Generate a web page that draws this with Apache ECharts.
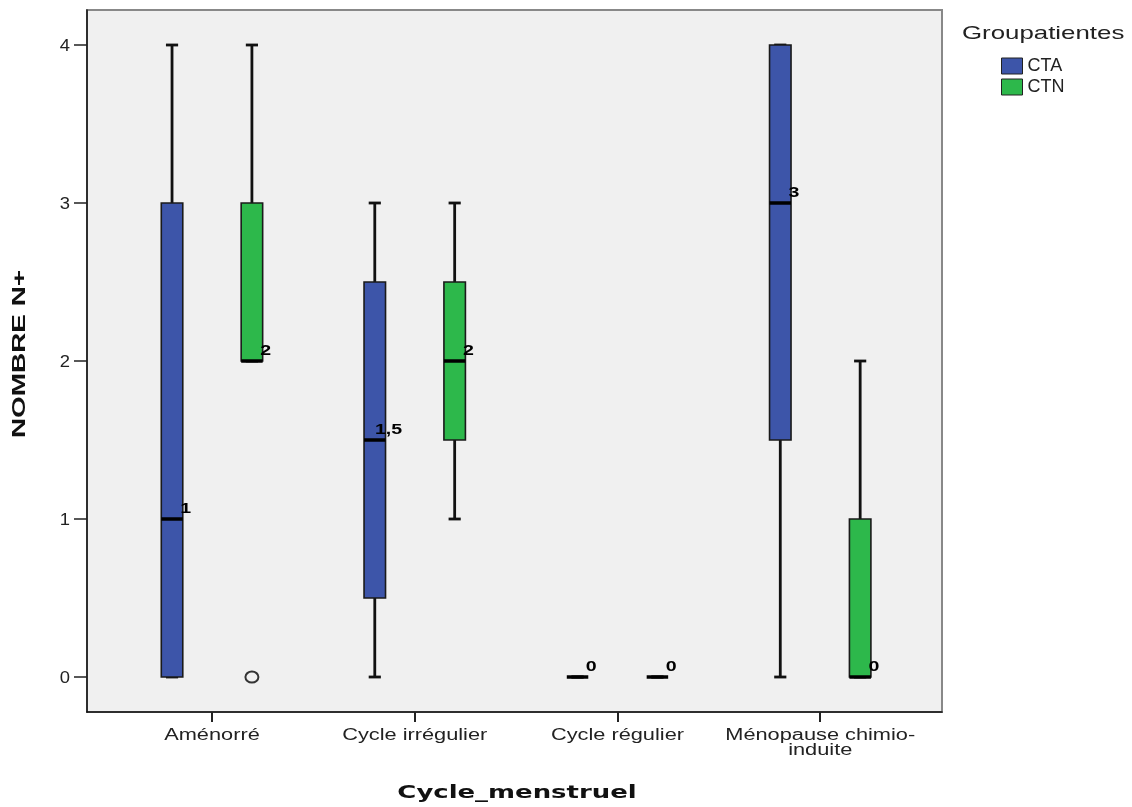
<!DOCTYPE html>
<html>
<head>
<meta charset="utf-8">
<script src="https://cdn.jsdelivr.net/npm/echarts@6/dist/echarts.min.js"></script>
<style>html,body{margin:0;padding:0;background:#fff}#c{width:1132px;height:807px}</style>
</head>
<body>
<div id="c"></div>
<script>
// ---- data ----
const categories = ['Aménorré', 'Cycle irrégulier', 'Cycle régulier', 'Ménopause chimio-\ninduite'];
const groups = ['CTA', 'CTN'];
const yTicks = [0, 1, 2, 3, 4];
const xTitle = 'Cycle_menstruel';
const yTitle = 'NOMBRE N+';
const legendTitle = 'Groupatientes';

const ctaMin = [0, 0, 0, 0];
const ctaQ1  = [0, 0.5, 0, 1.5];
const ctaMed = [1, 1.5, 0, 3];
const ctaQ3  = [3, 2.5, 0, 4];
const ctaMax = [4, 3, 0, 4];
const ctaLabels = ['1', '1,5', '0', '3'];
const ctaOutliers = [];

const ctnMin = [2, 1, 0, 0];
const ctnQ1  = [2, 1.5, 0, 0];
const ctnMed = [2, 2, 0, 0];
const ctnQ3  = [3, 2.5, 0, 1];
const ctnMax = [4, 3, 0, 2];
const ctnLabels = ['2', '2', '0', '0'];
const ctnOutliers = [[0, 0]]; // [category index, value]

// ---- build ----
const BLUE = '#3d55a9', GREEN = '#2db84b';
const SX = 1.36; // horizontal text stretch seen in the reference
function rows(mn, q1, md, q3, mx) {
  return categories.map((c, i) => [i, mn[i], q1[i], md[i], q3[i], mx[i]]);
}
function boxRender(side, color, labels) {
  return function (params, api) {
    const i = api.value(0);
    const band = api.size([1, 0])[0];
    const cx = api.coord([i, 0])[0] + side * band * 0.197;
    const bw = band * 0.106, cap = band * 0.03;
    const y = v => api.coord([i, v])[1];
    const yMin = y(api.value(1)), yQ1 = y(api.value(2)), yMed = y(api.value(3)), yQ3 = y(api.value(4)), yMax = y(api.value(5));
    const ls = { stroke: '#111', lineWidth: 2.8 };
    const ch = [];
    ch.push({ type: 'line', shape: { x1: cx, y1: yMin, x2: cx, y2: yQ1 }, style: ls });
    ch.push({ type: 'line', shape: { x1: cx, y1: yQ3, x2: cx, y2: yMax }, style: ls });
    ch.push({ type: 'line', shape: { x1: cx - cap, y1: yMin, x2: cx + cap, y2: yMin }, style: ls });
    ch.push({ type: 'line', shape: { x1: cx - cap, y1: yMax, x2: cx + cap, y2: yMax }, style: ls });
    if (yQ1 - yQ3 > 0.5) {
      ch.push({ type: 'rect', shape: { x: cx - bw / 2, y: yQ3, width: bw, height: yQ1 - yQ3 }, style: { fill: color, stroke: '#1a1a1a', lineWidth: 1.6 } });
    }
    ch.push({ type: 'line', shape: { x1: cx - bw / 2, y1: yMed, x2: cx + bw / 2, y2: yMed }, style: { stroke: '#000', lineWidth: 3.5 } });
    ch.push({ type: 'text', x: cx + bw / 2 + 3, y: yMed - 10, scaleX: 1.4,
      style: { text: labels[params.dataIndex], fill: '#000', font: 'bold 14px "Liberation Sans", Arial', align: 'center', verticalAlign: 'middle' } });
    return { type: 'group', children: ch };
  };
}
function outlierRender(side) {
  return function (params, api) {
    const i = api.value(0);
    const band = api.size([1, 0])[0];
    const p = api.coord([i, api.value(1)]);
    const cx = p[0] + side * band * 0.197;
    return { type: 'ellipse', shape: { cx: cx, cy: p[1], rx: 6.5, ry: 5.5 }, style: { fill: '#f0f0f0', stroke: '#333', lineWidth: 2 } };
  };
}
function catLabelRender(params, api) {
  const p = api.coord([api.value(0), api.value(1)]);
  return { type: 'text', x: p[0], y: p[1] + 16, scaleX: SX,
    style: { text: categories[params.dataIndex], fill: '#222', font: '16px "Liberation Sans", Arial', align: 'center', verticalAlign: 'top', lineHeight: 15 } };
}
function yLabelRender(params, api) {
  const p = api.coord([api.value(0), api.value(1)]);
  return { type: 'text', x: p[0] - 17, y: p[1] + 2, scaleX: 1.15,
    style: { text: String(yTicks[params.dataIndex]), fill: '#222', font: '16px "Liberation Sans", Arial', align: 'right', verticalAlign: 'middle' } };
}

const YMIN = -0.2215, YMAX = 4.2215;
const chart = echarts.init(document.getElementById('c'), null, { renderer: 'canvas' });
chart.setOption({
  animation: false,
  backgroundColor: '#fff',
  graphic: [
    { type: 'text', x: 962, y: 34, scaleX: SX,
      style: { text: legendTitle, fill: '#222', font: '19px "Liberation Sans", Arial', align: 'left', verticalAlign: 'middle' } },
    { type: 'text', x: 517, y: 793, scaleX: 1.44,
      style: { text: xTitle, fill: '#111', font: 'bold 18px "DejaVu Sans", Verdana', align: 'center', verticalAlign: 'middle' } },
    { type: 'text', x: 20, y: 354, rotation: Math.PI / 2, scaleX: 1.55,
      style: { text: yTitle, fill: '#111', font: 'bold 18px "Liberation Sans", Arial', align: 'center', verticalAlign: 'middle' } }
  ],
  legend: {
    data: groups, orient: 'vertical', left: 996, top: 52, itemWidth: 21, itemHeight: 16, itemGap: 3,
    icon: 'rect', textStyle: { fontFamily: '"Liberation Sans", Arial', fontSize: 18, color: '#222' },
    itemStyle: { borderColor: '#222', borderWidth: 1 }
  },
  grid: [
    { left: 87, top: 10, width: 855, height: 702, show: true, backgroundColor: '#f0f0f0', borderColor: '#888', borderWidth: 2, outerBoundsMode: 'none', containLabel: false },
    { left: 110.6, top: 10, width: 811, height: 702, outerBoundsMode: 'none', containLabel: false }
  ],
  xAxis: [
    { gridIndex: 0, type: 'value', min: 0, max: 1,
      axisLine: { show: true, onZero: false, lineStyle: { color: '#111', width: 1.5 } },
      axisTick: { show: false }, axisLabel: { show: false }, splitLine: { show: false } },
    { gridIndex: 1, type: 'category', data: categories, boundaryGap: true,
      axisLine: { show: false, onZero: false },
      axisTick: { show: true, alignWithLabel: true, length: 10, lineStyle: { color: '#222', width: 2 } },
      axisLabel: { show: false }, splitLine: { show: false } }
  ],
  yAxis: [
    { gridIndex: 0, type: 'value', min: YMIN, max: YMAX,
      axisLine: { show: true, onZero: false, lineStyle: { color: '#111', width: 1.5 } },
      axisTick: { show: true, length: 13, customValues: yTicks, lineStyle: { color: '#222', width: 1.5 } },
      axisLabel: { show: false }, splitLine: { show: false } },
    { gridIndex: 1, type: 'value', min: YMIN, max: YMAX, show: false }
  ],
  series: [
    { name: 'CTA', type: 'custom', xAxisIndex: 1, yAxisIndex: 1, itemStyle: { color: BLUE },
      encode: { x: 0, y: [1, 2, 3, 4, 5] }, data: rows(ctaMin, ctaQ1, ctaMed, ctaQ3, ctaMax),
      renderItem: boxRender(-1, BLUE, ctaLabels) },
    { name: 'CTN', type: 'custom', xAxisIndex: 1, yAxisIndex: 1, itemStyle: { color: GREEN },
      encode: { x: 0, y: [1, 2, 3, 4, 5] }, data: rows(ctnMin, ctnQ1, ctnMed, ctnQ3, ctnMax),
      renderItem: boxRender(1, GREEN, ctnLabels) },
    { name: 'CTN outliers', type: 'custom', xAxisIndex: 1, yAxisIndex: 1,
      encode: { x: 0, y: 1 }, data: ctnOutliers, renderItem: outlierRender(1) },
    { name: 'CTA outliers', type: 'custom', xAxisIndex: 1, yAxisIndex: 1,
      encode: { x: 0, y: 1 }, data: ctaOutliers, renderItem: outlierRender(-1) },
    { name: 'category labels', type: 'custom', xAxisIndex: 1, yAxisIndex: 1, silent: true,
      encode: { x: 0, y: 1 }, data: categories.map((c, i) => [i, YMIN]), renderItem: catLabelRender },
    { name: 'y labels', type: 'custom', xAxisIndex: 0, yAxisIndex: 0, silent: true,
      encode: { x: 0, y: 1 }, data: yTicks.map(v => [0, v]), renderItem: yLabelRender }
  ]
});
</script>
</body>
</html>
